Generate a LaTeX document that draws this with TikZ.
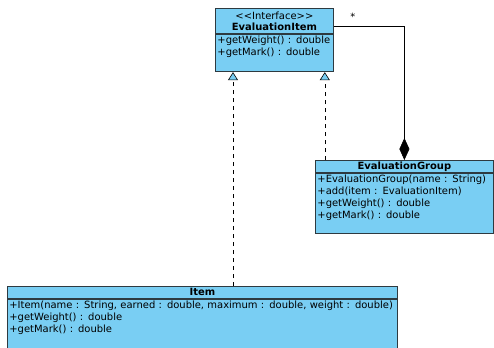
\documentclass[tikz,border=0pt]{standalone}
\usepackage{fontspec}
\setmainfont{DejaVu Sans}
\usepackage{xcolor}
\usepackage{tikz}
\usetikzlibrary{calc,arrows.meta}
\definecolor{umlBlue}{HTML}{79CEF3}
\definecolor{umlLine}{HTML}{2E3A40}
\newcommand{\umlfont}{\fontsize{10}{12}\selectfont}
\tikzset{
  umlhead/.style={rectangle, draw=umlLine, fill=umlBlue, line width=0.8pt, align=center, anchor=north west, font=\umlfont, inner sep=0.5bp},
  umlbody/.style={rectangle, draw=umlLine, fill=umlBlue, line width=0.8pt, align=left, anchor=north west, font=\umlfont, inner xsep=2bp, inner ysep=2bp},
  % --- relation styles ---
  realize/.style={-{Triangle[open, fill=umlBlue, length=8bp, width=10bp]}, draw=black, line width=0.6pt, dash pattern=on 4bp off 4bp},
  compose/.style={{Diamond[length=22bp, width=10bp]}-, draw=black, line width=0.6pt},
  multlabel/.style={font=\umlfont, inner sep=1bp},
}

\begin{document}
\begin{tikzpicture}[x=1bp,y=1bp]
  \useasboundingbox (0,0) rectangle (494,-347);

  % Interface
  \node[umlhead, minimum width=118bp, minimum height=25bp] (evalItemHead) at (215,-8) {{<}{<}Interface{>}{>}\\[-1bp]\textbf{EvaluationItem}};
  \node[umlbody, text width=114bp, text depth=26bp] (evalItemBody) at (evalItemHead.south west) {+getWeight() : double\\+getMark() : double};

  % Composite
  \node[umlhead, minimum width=178bp, minimum height=12bp] (evalGroupHead) at (315,-160) {\textbf{EvaluationGroup}};
  \node[umlbody, text width=174bp, text depth=48.5bp] (evalGroupBody) at (evalGroupHead.south west) {+EvaluationGroup(name : String)\\+add(item : EvaluationItem)\\+getWeight() : double\\+getMark() : double};

  % Leaf
  \node[umlhead, minimum width=390bp, minimum height=12bp] (itemHead) at (7,-286) {\textbf{Item}};
  \node[umlbody, text width=386bp, text depth=40bp] (itemBody) at (itemHead.south west) {+Item(name : String, earned : double, maximum : double, weight : double)\\+getWeight() : double\\+getMark() : double};

  % Relations
  \coordinate (implItem) at ([xshift=18bp]evalItemBody.south west);
  \coordinate (implGroup) at ([xshift=-9bp]evalItemBody.south east);
  \coordinate (compStart) at ([yshift=-5bp]evalItemHead.east);
  \draw[realize] (implItem |- itemHead.north) -- (implItem);
  \draw[realize] (implGroup |- evalGroupHead.north) -- (implGroup);
  \draw[compose] (evalGroupHead.north) |- (compStart);
  \node[multlabel, anchor=south] (mult) at ([xshift=19bp, yshift=4bp]compStart) {*};
\end{tikzpicture}
\end{document}
